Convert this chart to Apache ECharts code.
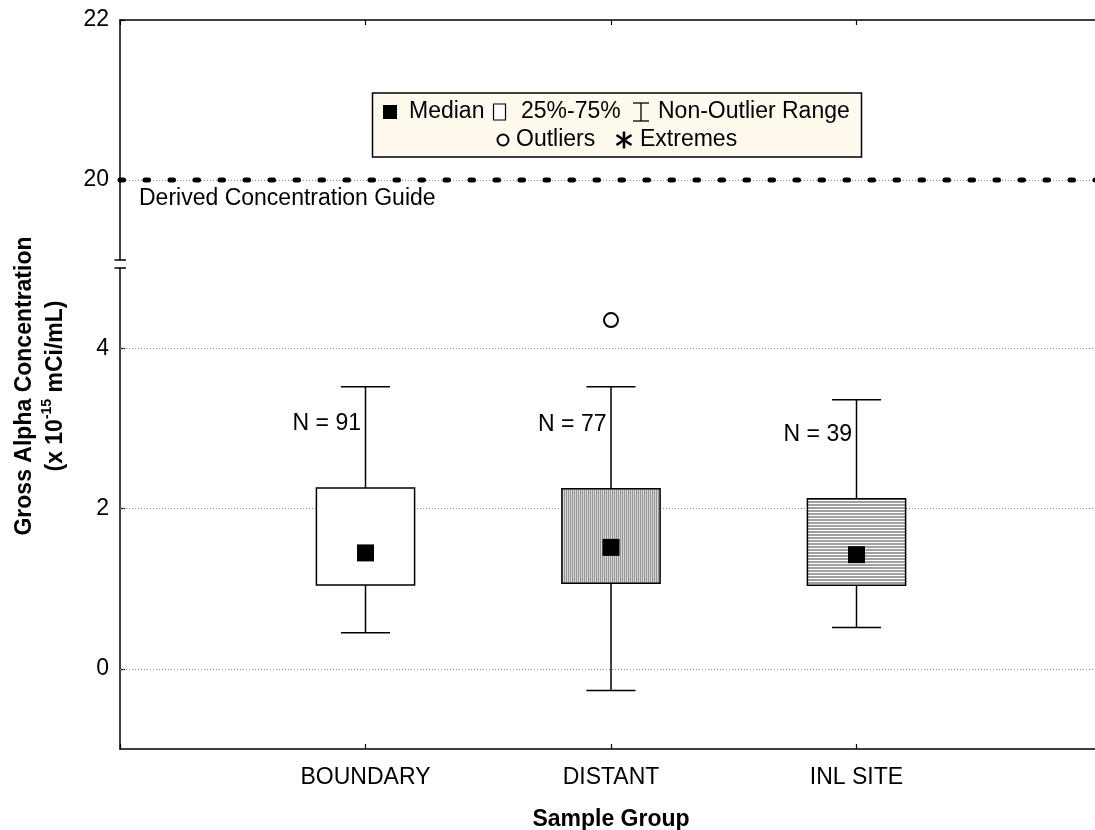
<!DOCTYPE html>
<html><head><meta charset="utf-8">
<script src="https://cdn.jsdelivr.net/npm/echarts@6/dist/echarts.min.js"></script>
<style>html,body{margin:0;padding:0;background:#fff}#c{width:1095px;height:830px}</style>
</head><body><div id="c"></div><script>
// ---- data ----
const categories = ['BOUNDARY', 'DISTANT', 'INL SITE'];
const whiskerLow = [0.45, -0.27, 0.515];
const q1 = [1.047, 1.067, 1.042];
const medians = [1.446, 1.515, 1.424];
const q3 = [2.255, 2.247, 2.122];
const whiskerHigh = [3.518, 3.518, 3.356];
const counts = [91, 77, 39];
const outlierGroup = [2];
const outlierValue = [4.35];
const dcgValue = 20;
const upperTickValues = [20, 22];
const lowerTickValues = [0, 2, 4];

const FONT = '"Liberation Sans", Arial, Helvetica, sans-serif';
const G_LEFT = 120, G_WIDTH = 982;
const U_TOP = 20, U_H = 240;
const L_TOP = 268, L_H = 481;

function makePattern(w, h, draw) {
  const c = document.createElement('canvas');
  c.width = w; c.height = h;
  const ctx = c.getContext('2d');
  draw(ctx);
  return { image: c, repeat: 'repeat' };
}
const vertHatch = makePattern(2, 1, ctx => {
  ctx.fillStyle = '#d6d6d6'; ctx.fillRect(0, 0, 2, 1);
  ctx.fillStyle = '#969696'; ctx.fillRect(0, 0, 1, 1);
});
const horizHatch = makePattern(1, 3, ctx => {
  ctx.fillStyle = '#ffffff'; ctx.fillRect(0, 0, 1, 3);
  ctx.fillStyle = '#a0a0a0'; ctx.fillRect(0, 0, 1, 2);
});
const boxFills = ['#ffffff', vertHatch, horizHatch];

const boxData = categories.map((c, i) => [i + 1, whiskerLow[i], q1[i], medians[i], q3[i], whiskerHigh[i]]);

function renderBox(params, api) {
  const x = api.value(0);
  const lo = api.coord([x, api.value(1)]);
  const b1 = api.coord([x, api.value(2)]);
  const b3 = api.coord([x, api.value(4)]);
  const hi = api.coord([x, api.value(5)]);
  const bw = api.size([0.4, 0])[0];
  const cw = api.size([0.2, 0])[0];
  const ls = { stroke: '#000', lineWidth: 1.5 };
  return {
    type: 'group',
    children: [
      { type: 'line', shape: { x1: hi[0], y1: hi[1], x2: b3[0], y2: b3[1] }, style: ls },
      { type: 'line', shape: { x1: lo[0], y1: lo[1], x2: b1[0], y2: b1[1] }, style: ls },
      { type: 'line', shape: { x1: hi[0] - cw / 2, y1: hi[1], x2: hi[0] + cw / 2, y2: hi[1] }, style: ls },
      { type: 'line', shape: { x1: lo[0] - cw / 2, y1: lo[1], x2: lo[0] + cw / 2, y2: lo[1] }, style: ls },
      { type: 'rect', shape: { x: b3[0] - bw / 2, y: b3[1], width: bw, height: b1[1] - b3[1] },
        style: { fill: boxFills[params.dataIndex], stroke: '#000', lineWidth: 1.5 } }
    ]
  };
}

const chart = echarts.init(document.getElementById('c'), null, { renderer: 'canvas' });

const axisLineStyle = { show: true, onZero: false, lineStyle: { color: '#000', width: 1.5 } };
const gridLineStyle = { color: '#8c8c8c', width: 1, type: [1, 2] };

// legend graphic
const LT = { fontSize: 23, fontFamily: FONT, fill: '#000' };
function ltext(x, y, t) { return { type: 'text', x: x, y: y, style: Object.assign({ text: t, verticalAlign: 'middle', align: 'left' }, LT) }; }
const L1 = 112, L2 = 140;
const legendGraphic = [
  { type: 'rect', shape: { x: 372.5, y: 93, width: 489, height: 64 }, style: { fill: '#fff9ee', stroke: '#000', lineWidth: 1.5 } },
  { type: 'rect', shape: { x: 383, y: L1 - 7, width: 14, height: 14 }, style: { fill: '#000' } },
  ltext(409, L1, 'Median'),
  { type: 'rect', shape: { x: 493.5, y: L1 - 8, width: 12, height: 16 }, style: { fill: '#fff', stroke: '#000', lineWidth: 1.2 } },
  ltext(521, L1, '25%-75%'),
  { type: 'line', shape: { x1: 641, y1: L1 - 9, x2: 641, y2: L1 + 9 }, style: { stroke: '#000', lineWidth: 1.3 } },
  { type: 'line', shape: { x1: 633, y1: L1 - 9, x2: 649, y2: L1 - 9 }, style: { stroke: '#000', lineWidth: 1.3 } },
  { type: 'line', shape: { x1: 633, y1: L1 + 9, x2: 649, y2: L1 + 9 }, style: { stroke: '#000', lineWidth: 1.3 } },
  ltext(658, L1, 'Non-Outlier Range'),
  { type: 'circle', shape: { cx: 503, cy: L2, r: 5.5 }, style: { fill: '#fff', stroke: '#000', lineWidth: 2 } },
  ltext(516, L2, 'Outliers'),
  { type: 'line', shape: { x1: 624, y1: L2 - 8.5, x2: 624, y2: L2 + 8.5 }, style: { stroke: '#000', lineWidth: 2.6 } },
  { type: 'line', shape: { x1: 616.5, y1: L2 - 5, x2: 631.5, y2: L2 + 5 }, style: { stroke: '#000', lineWidth: 2.6 } },
  { type: 'line', shape: { x1: 616.5, y1: L2 + 5, x2: 631.5, y2: L2 - 5 }, style: { stroke: '#000', lineWidth: 2.6 } },
  ltext(640, L2, 'Extremes')
];

// axis break caps
const capGraphic = [
  { type: 'line', shape: { x1: 114.5, y1: U_TOP + U_H, x2: 126, y2: U_TOP + U_H }, style: { stroke: '#000', lineWidth: 1.5 } },
  { type: 'line', shape: { x1: 114.5, y1: L_TOP, x2: 126, y2: L_TOP }, style: { stroke: '#000', lineWidth: 1.5 } }
];

// y-axis title
const yTitle = {
  type: 'text', x: 40, y: 386, rotation: Math.PI / 2,
  style: {
    text: '{a|Gross Alpha Concentration}\n{a|(x 10}{s|-15}{a| mCi/mL)}',
    align: 'center', verticalAlign: 'middle', fill: '#000',
    rich: {
      a: { fontSize: 23, fontWeight: 'bold', fontFamily: FONT, lineHeight: 31, fill: '#000' },
      s: { fontSize: 14, fontWeight: 'bold', fontFamily: FONT, lineHeight: 18, verticalAlign: 'top', fill: '#000' }
    }
  }
};

const option = {
  animation: false,
  backgroundColor: '#fff',
  textStyle: { fontFamily: FONT },
  grid: [
    { left: G_LEFT, top: U_TOP, width: G_WIDTH, height: U_H, containLabel: false, outerBoundsMode: 'none' },
    { left: G_LEFT, top: L_TOP, width: G_WIDTH, height: L_H, containLabel: false, outerBoundsMode: 'none' }
  ],
  xAxis: [
    { gridIndex: 0, type: 'value', position: 'top', min: 0, max: 4, interval: 1,
      axisLine: axisLineStyle, axisTick: { show: true, inside: true, length: 5, lineStyle: { color: '#000', width: 1.2 } },
      axisLabel: { show: false }, splitLine: { show: false } },
    { gridIndex: 1, type: 'value', position: 'bottom', min: 0, max: 4, interval: 1,
      axisLine: axisLineStyle, axisTick: { show: true, inside: true, length: 5, lineStyle: { color: '#000', width: 1.2 } },
      axisLabel: { show: true, fontSize: 23, color: '#000', margin: 17, fontFamily: FONT,
        formatter: v => categories[v - 1] || '' },
      splitLine: { show: false },
      name: 'Sample Group', nameLocation: 'middle', nameGap: 59,
      nameTextStyle: { fontSize: 23, fontWeight: 'bold', color: '#000', fontFamily: FONT } }
  ],
  yAxis: [
    { gridIndex: 0, type: 'value', min: 19, max: 22, interval: 1,
      axisLine: axisLineStyle,
      axisTick: { show: true, inside: true, length: 5, customValues: upperTickValues, lineStyle: { color: '#000', width: 1.2 } },
      axisLabel: { show: true, fontSize: 23, color: '#000', margin: 11, fontFamily: FONT,
        formatter: v => upperTickValues.indexOf(v) >= 0 ? String(v) : '' },
      splitLine: { show: false } },
    { gridIndex: 1, type: 'value', min: -1, max: 5, interval: 1,
      axisLine: axisLineStyle,
      axisTick: { show: true, inside: true, length: 5, customValues: lowerTickValues, lineStyle: { color: '#000', width: 1.2 } },
      axisLabel: { show: true, fontSize: 23, color: '#000', margin: 11, fontFamily: FONT,
        formatter: v => lowerTickValues.indexOf(v) >= 0 ? String(v) : '' },
      splitLine: { show: false } }
  ],
  series: [
    { // Derived Concentration Guide
      type: 'line', xAxisIndex: 0, yAxisIndex: 0, z: 3,
      data: [[0, dcgValue], [4, dcgValue]],
      showSymbol: false, symbol: 'none', silent: true,
      lineStyle: { color: '#000', width: 5, type: [3.5, 21.5], cap: 'round' },
      markLine: {
        z: 1, silent: true, symbol: 'none', animation: false,
        data: upperTickValues.filter(v => v < 22).map(v => ({ yAxis: v, lineStyle: gridLineStyle,
          label: v === dcgValue
            ? { show: true, position: 'insideStartBottom', formatter: 'Derived Concentration Guide',
                fontSize: 23, color: '#000', fontFamily: FONT, distance: [19, 7] }
            : { show: false } }))
      }
    },
    { // N labels + lower gridlines
      type: 'scatter', xAxisIndex: 1, yAxisIndex: 1, z: 1, silent: true,
      symbolSize: 1, itemStyle: { color: 'rgba(0,0,0,0)', opacity: 1 },
      data: counts.map((n, i) => [i + 1, q3[i] + 0.8, n]),
      label: { show: true, position: 'left', distance: 4, fontSize: 23, color: '#000', fontFamily: FONT,
        formatter: p => 'N = ' + p.value[2] },
      markLine: {
        z: 1, silent: true, symbol: 'none', animation: false,
        lineStyle: gridLineStyle, label: { show: false },
        data: lowerTickValues.map(v => ({ yAxis: v }))
      }
    },
    { // boxes + whiskers
      type: 'custom', xAxisIndex: 1, yAxisIndex: 1, z: 2, silent: true,
      renderItem: renderBox,
      encode: { x: 0, y: [1, 2, 3, 4, 5] },
      data: boxData
    },
    { // medians
      type: 'scatter', xAxisIndex: 1, yAxisIndex: 1, z: 4, silent: true,
      symbol: 'rect', symbolSize: 17, itemStyle: { color: '#000', opacity: 1 },
      data: medians.map((m, i) => [i + 1, m])
    },
    { // outliers
      type: 'scatter', xAxisIndex: 1, yAxisIndex: 1, z: 4, silent: true,
      symbol: 'circle', symbolSize: 14, itemStyle: { color: '#fff', borderColor: '#000', borderWidth: 2, opacity: 1 },
      data: outlierGroup.map((g, i) => [g, outlierValue[i]])
    }
  ],
  graphic: legendGraphic.concat(capGraphic, [yTitle])
};
chart.setOption(option);
</script></body></html>
